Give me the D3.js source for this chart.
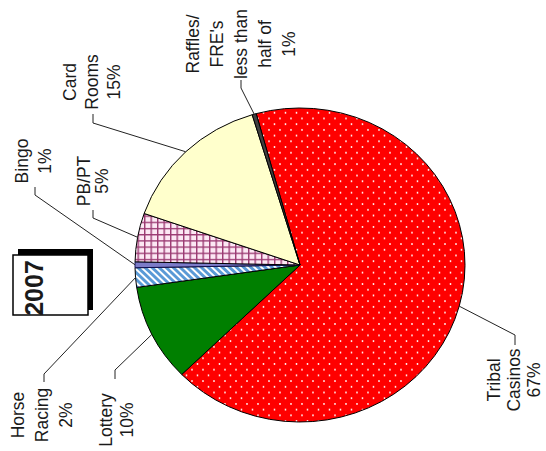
<!DOCTYPE html>
<html>
<head>
<meta charset="utf-8">
<script src="https://cdn.jsdelivr.net/npm/d3@7/dist/d3.min.js"></script>
<style>
  html, body { margin: 0; padding: 0; background: #fff; }
  svg { display: block; }
  text { font-family: "Liberation Sans", Arial, sans-serif; fill: #1a1a1a; }
</style>
</head>
<body>
<script>
// ---- data ----
const categories = ["Tribal Casinos", "Lottery", "Horse Racing", "Bingo", "PB/PT", "Card Rooms", "Raffles/FRE's"];
const shares = [67, 10, 2, 0.6, 5, 15, 0.4];
const labelLines = [
  ["Tribal", "Casinos", "67%"],
  ["Lottery", "10%"],
  ["Horse", "Racing", "2%"],
  ["Bingo", "1%"],
  ["PB/PT", "5%"],
  ["Card", "Rooms", "15%"],
  ["Raffles/", "FRE's", "less than", "half of", "1%"]
];
const yearLabel = "2007";

// ---- layout (screen coordinates; chart is rotated 90deg CCW) ----
const W = 546, H = 451;
const center = [300, 265];
const rx = 165, ry = 157;
const startDeg = -15.4;
const labelLayout = [
  {cx: 514, cy: 380, sp: 20, elbow: [515, 335], stub: 345},
  {cx: 116, cy: 420, sp: 21, elbow: [115, 370], stub: 379},
  {cx: 42,  cy: 415, sp: 24, elbow: [44, 374],  stub: 382},
  {cx: 33,  cy: 161, sp: 23, elbow: [35, 195],  stub: 187},
  {cx: 93,  cy: 181, sp: 18, elbow: [93, 218],  stub: 210},
  {cx: 92,  cy: 82,  sp: 22, elbow: [93, 123],  stub: 114},
  {cx: 241, cy: 44,  sp: 24, elbow: [241, 88],  stub: 80}
];

const svg = d3.select("body").append("svg").attr("width", W).attr("height", H);
svg.append("rect").attr("width", W).attr("height", H).attr("fill", "#fff");

const defs = svg.append("defs");
// dotted red
const pDot = defs.append("pattern").attr("id", "pDot").attr("patternUnits", "userSpaceOnUse")
  .attr("width", 11).attr("height", 12);
pDot.append("rect").attr("width", 11).attr("height", 12).attr("fill", "#ff0000");
pDot.append("circle").attr("cx", 2).attr("cy", 2).attr("r", 0.9).attr("fill", "#fff");
pDot.append("circle").attr("cx", 7.5).attr("cy", 8).attr("r", 0.9).attr("fill", "#fff");
// blue diagonal stripes
const pStripe = defs.append("pattern").attr("id", "pStripe").attr("patternUnits", "userSpaceOnUse")
  .attr("width", 5).attr("height", 5).attr("patternTransform", "rotate(-45)");
pStripe.append("rect").attr("width", 5).attr("height", 5).attr("fill", "#5a9ad6");
pStripe.append("rect").attr("width", 2).attr("height", 5).attr("fill", "#ffffff");
// pink crosshatch
const pGrid = defs.append("pattern").attr("id", "pGrid").attr("patternUnits", "userSpaceOnUse")
  .attr("width", 6.5).attr("height", 6.5);
pGrid.append("rect").attr("width", 6.5).attr("height", 6.5).attr("fill", "#fce8f4");
pGrid.append("rect").attr("width", 1.4).attr("height", 6.5).attr("fill", "#9b3a72");
pGrid.append("rect").attr("width", 6.5).attr("height", 1.4).attr("fill", "#9b3a72");

const fills = ["url(#pDot)", "#007f00", "url(#pStripe)", "#7c7cc8", "url(#pGrid)", "#ffffcc", "#404040"];

const pie = d3.pie().sort(null).value(d => d)
  .startAngle(startDeg * Math.PI / 180)
  .endAngle(startDeg * Math.PI / 180 + 2 * Math.PI);
const arcs = pie(shares);
const arc = d3.arc().innerRadius(0).outerRadius(rx);
const edge = d3.arc().innerRadius(rx).outerRadius(rx);

const g = svg.append("g").attr("transform", `translate(${center[0]},${center[1]}) scale(1,${ry / rx})`);
g.selectAll("path.slice").data(arcs).enter().append("path")
  .attr("class", "slice")
  .attr("d", arc)
  .attr("fill", (d, i) => fills[i])
  .attr("stroke", (d, i) => i === 3 ? "#101050" : "#000")
  .attr("stroke-width", 1)
  .attr("vector-effect", "non-scaling-stroke");

// leader lines
arcs.forEach((d, i) => {
  const c = edge.centroid(d);
  const p0 = [center[0] + c[0], center[1] + c[1] * ry / rx];
  const L = labelLayout[i];
  const pts = [p0, L.elbow, [L.elbow[0], L.stub]];
  svg.append("path")
    .attr("d", d3.line()(pts))
    .attr("fill", "none").attr("stroke", "#222").attr("stroke-width", 1);
});

// labels (rotated -90)
labelLines.forEach((lines, i) => {
  const L = labelLayout[i];
  const n = lines.length;
  lines.forEach((t, j) => {
    const x = L.cx + (j - (n - 1) / 2) * L.sp;
    svg.append("text")
      .attr("transform", `translate(${x},${L.cy}) rotate(-90)`)
      .attr("text-anchor", "middle")
      .attr("dominant-baseline", "central")
      .attr("font-size", 17.5)
      .text(t);
  });
});

// year box with shadow
svg.append("rect").attr("x", 18).attr("y", 249).attr("width", 75).attr("height", 61).attr("fill", "#000");
svg.append("rect").attr("x", 13).attr("y", 255).attr("width", 75).attr("height", 60)
  .attr("fill", "#fff").attr("stroke", "#000").attr("stroke-width", 1.5);
svg.append("text")
  .attr("transform", "translate(43,288) rotate(-90)")
  .attr("text-anchor", "middle")
  .attr("font-size", 25).attr("font-weight", "bold")
  .text(yearLabel);
</script>
</body>
</html>
